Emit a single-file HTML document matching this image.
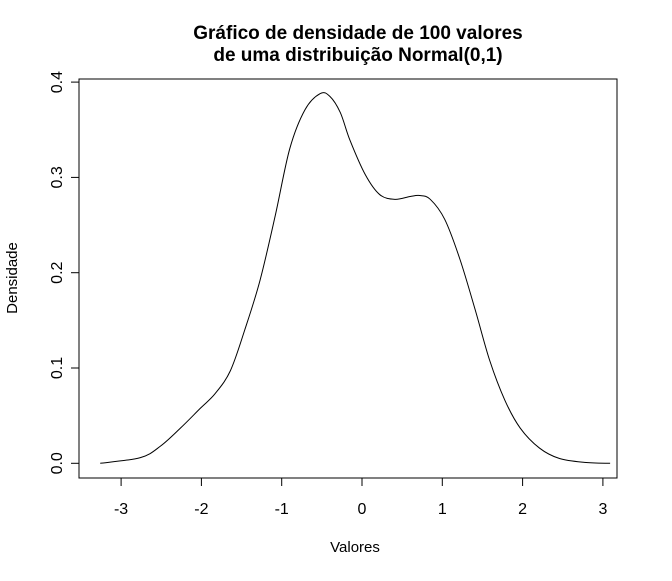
<!DOCTYPE html>
<html><head><meta charset="utf-8"><style>
body{margin:0;background:#fff}
svg text{font-family:"Liberation Sans",sans-serif;fill:#000}
</style></head><body>
<svg width="672" height="576">
<rect width="672" height="576" fill="#fff"/>
<text x="358" y="39" text-anchor="middle" font-size="19" font-weight="bold">Gráfico de densidade de 100 valores</text>
<text x="358" y="61" text-anchor="middle" font-size="19" font-weight="bold">de uma distribuição Normal(0,1)</text>
<rect x="79" y="79" width="538" height="399" fill="none" stroke="#000"/>
<g id="xaxis"></g>
<g id="yaxis"></g>
<text x="355" y="552" text-anchor="middle" font-size="15">Valores</text>
<text transform="translate(17,278) rotate(-90)" text-anchor="middle" font-size="15">Densidade</text>
<path id="curve" fill="none" stroke="#000" stroke-width="1"/>
</svg>
<script>
const xTicks=[-3,-2,-1,0,1,2,3];
const yTicks=[0,0.1,0.2,0.3,0.4];
const yTickLabels=["0.0","0.1","0.2","0.3","0.4"];
const xs=[-3.26,-2.76,-2.51,-2.26,-2.01,-1.83,-1.64,-1.46,-1.27,-1.08,-0.90,-0.71,-0.52,-0.40,-0.27,-0.15,0.04,0.22,0.41,0.60,0.72,0.85,1.03,1.22,1.41,1.59,1.78,1.97,2.21,2.46,2.77,3.09];
const dens=[0.0,0.006,0.018,0.037,0.058,0.073,0.097,0.14,0.192,0.26,0.33,0.371,0.388,0.385,0.368,0.339,0.303,0.282,0.277,0.280,0.281,0.277,0.256,0.214,0.161,0.108,0.066,0.037,0.016,0.005,0.001,0.0];
const NS="http://www.w3.org/2000/svg";
const X=v=>362+v*80.3, Y=v=>463.3-v*953;
const xa=document.getElementById('xaxis'), ya=document.getElementById('yaxis');
xTicks.forEach(t=>{
 const l=document.createElementNS(NS,'line');
 l.setAttribute('x1',X(t));l.setAttribute('x2',X(t));l.setAttribute('y1',478);l.setAttribute('y2',486);l.setAttribute('stroke','#000');
 
 
 xa.appendChild(l);
 const s=document.createElementNS(NS,'text');
 s.setAttribute('x',X(t));s.setAttribute('y',514);s.setAttribute('text-anchor','middle');s.setAttribute('font-size','16');
 s.textContent=t;
 
 
 xa.appendChild(s);
});
yTicks.forEach((t,i)=>{
 const l=document.createElementNS(NS,'line');
 l.setAttribute('x1',71);l.setAttribute('x2',79);l.setAttribute('y1',Y(t));l.setAttribute('y2',Y(t));l.setAttribute('stroke','#000');
 
 
 ya.appendChild(l);
 const s=document.createElementNS(NS,'text');
 s.setAttribute('transform',`translate(62,${Y(t)}) rotate(-90)`);s.setAttribute('text-anchor','middle');s.setAttribute('font-size','16');
 s.textContent=yTickLabels[i];
 
 
 ya.appendChild(s);
});
const P=xs.map((x,i)=>[X(x),Y(dens[i])]);
let d=`M${P[0][0]},${P[0][1]}`;
for(let i=0;i<P.length-1;i++){
 const p0=P[Math.max(0,i-1)],p1=P[i],p2=P[i+1],p3=P[Math.min(P.length-1,i+2)];
 d+=` C${p1[0]+(p2[0]-p0[0])/6},${p1[1]+(p2[1]-p0[1])/6} ${p2[0]-(p3[0]-p1[0])/6},${p2[1]-(p3[1]-p1[1])/6} ${p2[0]},${p2[1]}`;
}
document.getElementById('curve').setAttribute('d',d);
</script>
</body></html>
